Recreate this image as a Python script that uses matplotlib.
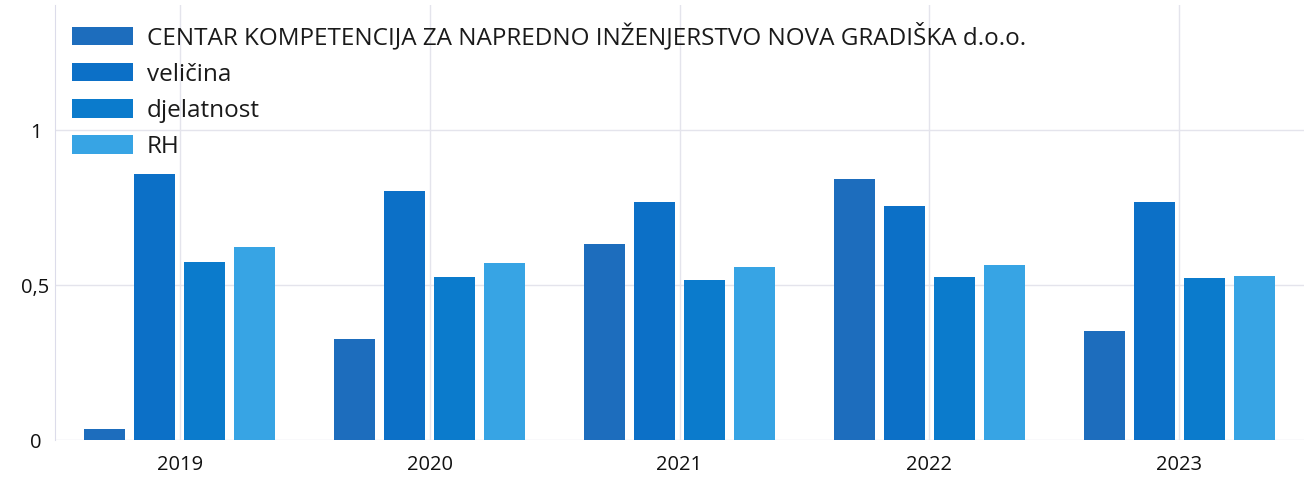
import numpy as np
import matplotlib
matplotlib.use('Agg')
import matplotlib.pyplot as plt

# data
years = ['2019', '2020', '2021', '2022', '2023']
series_names = ['CENTAR KOMPETENCIJA ZA NAPREDNO INŽENJERSTVO NOVA GRADIŠKA d.o.o.',
                'veličina', 'djelatnost', 'RH']
company = [0.035, 0.325, 0.631, 0.841, 0.352]
velicina = [0.858, 0.804, 0.767, 0.756, 0.767]
djelatnost = [0.573, 0.527, 0.516, 0.525, 0.523]
rh = [0.623, 0.570, 0.558, 0.563, 0.529]
yticks = [0, 0.5, 1]
yticklabels = ['0', '0,5', '1']

colors = ['#1d6dbd', '#0c70c7', '#0b7bcc', '#37a4e4']

plt.rcParams['font.family'] = ['Open Sans', 'DejaVu Sans']

fig = plt.figure(figsize=(13.04, 4.8), dpi=100)
ax = fig.add_axes([55 / 1304, 40 / 480, 1 - 55 / 1304, 435 / 480])

x = np.arange(len(years))
width = 0.164
offsets = [-0.3, -0.1, 0.1, 0.3]
for vals, off, col, name in zip([company, velicina, djelatnost, rh], offsets, colors, series_names):
    ax.bar(x + off, vals, width, color=col, label=name, zorder=3)

ax.set_xlim(-0.5, 4.5)
ax.set_ylim(0, 435 / 310)
ax.set_yticks(yticks)
ax.set_yticklabels(yticklabels)
ax.set_xticks(x)
ax.set_xticklabels(years)

ax.grid(True, axis='both', color='#e4e4ec', linewidth=1, zorder=0)
for s in ['top', 'right', 'bottom']:
    ax.spines[s].set_visible(False)
ax.spines['left'].set_color('#dcdcea')
ax.tick_params(axis='both', length=0, labelsize=14.5, colors='#111111')
ax.tick_params(axis='y', pad=14)
ax.tick_params(axis='x', pad=11)
for lbl in ax.get_yticklabels():
    lbl.set_horizontalalignment('center')

ax.legend(loc='upper left', bbox_to_anchor=(72 / 1304, 1 - 23 / 480),
          bbox_transform=fig.transFigure, frameon=False, fontsize=17.5,
          handlelength=2.5, handleheight=0.78, handletextpad=0.58,
          labelspacing=0.5, borderpad=0, borderaxespad=0, labelcolor='#1a1a1a')

fig.savefig('out.png', dpi=100)
